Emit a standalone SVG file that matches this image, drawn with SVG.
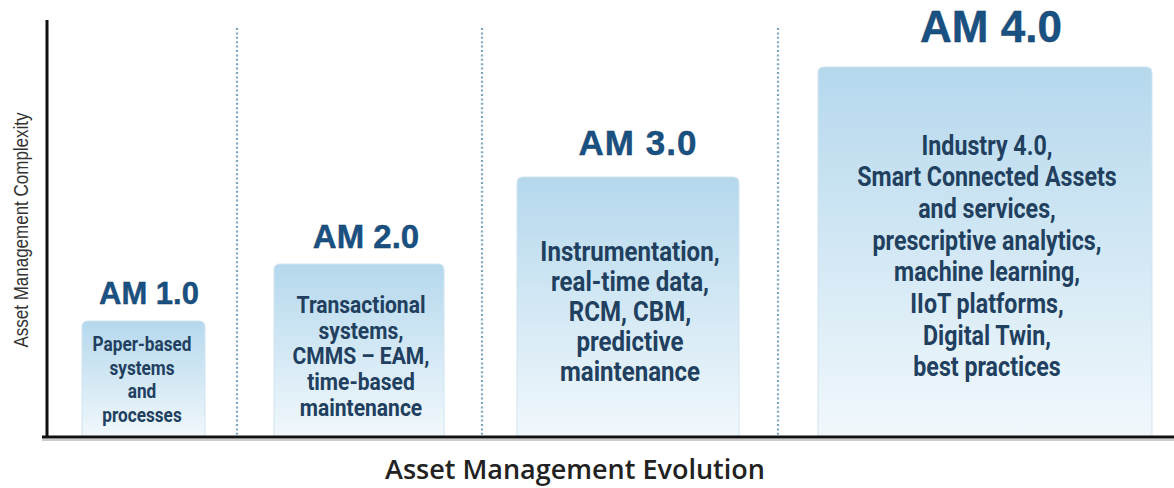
<svg xmlns="http://www.w3.org/2000/svg" width="1174" height="488" viewBox="0 0 1174 488">
<style>
.title{font-family:"Liberation Sans",Arial,sans-serif;font-weight:bold;fill:#1a5183;text-anchor:middle;stroke:#123c62;stroke-width:0.4}
.body{font-family:"Roboto","Liberation Sans",sans-serif;font-weight:bold;fill:#213f5e;text-anchor:middle}
.box{fill:url(#g);stroke:#d0e4f0;stroke-width:1}
.div{stroke:#7fa6bf;stroke-width:2.2;stroke-dasharray:2 2.4}
</style>
<defs>
<linearGradient id="g" x1="0" y1="0" x2="0" y2="1">
<stop offset="0" stop-color="#b5d8ed"/>
<stop offset="1" stop-color="#f1f8fc"/>
</linearGradient>
</defs>
<rect width="1174" height="488" fill="#fff"/>
<g id="dividers">
<line class="div" x1="237" y1="28" x2="237" y2="436"/>
<line class="div" x1="482" y1="28" x2="482" y2="436"/>
<line class="div" x1="778" y1="28" x2="778" y2="436"/>
</g>
<g id="am1">
<path class="box" d="M82,437 V327 Q82,321 88,321 H199 Q205,321 205,327 V437 Z"/>
<text class="title" x="149" y="304" font-size="31">AM 1.0</text>
<g class="body" font-size="20">
<text transform="translate(142,351) scale(0.86,1)">Paper-based</text>
<text transform="translate(142,375) scale(0.86,1)">systems</text>
<text transform="translate(142,398) scale(0.86,1)">and</text>
<text transform="translate(142,422) scale(0.86,1)">processes</text>
</g>
</g>
<g id="am2">
<path class="box" d="M274,437 V270 Q274,264 280,264 H438 Q444,264 444,270 V437 Z"/>
<text class="title" x="366" y="248" font-size="33">AM 2.0</text>
<g class="body" font-size="23">
<text transform="translate(361,313) scale(0.915,1)">Transactional</text>
<text transform="translate(361,338.5) scale(0.915,1)">systems,</text>
<text transform="translate(361,364) scale(0.915,1)">CMMS – EAM,</text>
<text transform="translate(361,389.5) scale(0.915,1)">time-based</text>
<text transform="translate(361,416) scale(0.915,1)">maintenance</text>
</g>
</g>
<g id="am3">
<path class="box" d="M517,437 V183 Q517,177 523,177 H733 Q739,177 739,183 V437 Z"/>
<text class="title" x="638" y="155" font-size="35" letter-spacing="1">AM 3.0</text>
<g class="body" font-size="28">
<text transform="translate(630,261) scale(0.86,1)">Instrumentation,</text>
<text transform="translate(630,291) scale(0.86,1)">real-time data,</text>
<text transform="translate(630,321) scale(0.86,1)">RCM, CBM,</text>
<text transform="translate(630,351) scale(0.86,1)">predictive</text>
<text transform="translate(630,381) scale(0.86,1)">maintenance</text>
</g>
</g>
<g id="am4">
<path class="box" d="M818,437 V73 Q818,67 824,67 H1146 Q1152,67 1152,73 V437 Z"/>
<text class="title" x="991" y="42" font-size="44">AM 4.0</text>
<g class="body" font-size="27">
<text transform="translate(987,155) scale(0.86,1)">Industry 4.0,</text>
<text transform="translate(987,186) scale(0.86,1)">Smart Connected Assets</text>
<text transform="translate(987,218) scale(0.86,1)">and services,</text>
<text transform="translate(987,250) scale(0.86,1)">prescriptive analytics,</text>
<text transform="translate(987,281) scale(0.86,1)">machine learning,</text>
<text transform="translate(987,313) scale(0.86,1)">IIoT platforms,</text>
<text transform="translate(987,345) scale(0.86,1)">Digital Twin,</text>
<text transform="translate(987,376) scale(0.86,1)">best practices</text>
</g>
</g>
<g id="axes">
<line x1="47" y1="20" x2="47" y2="438" stroke="#111" stroke-width="3"/>
<line x1="42" y1="437" x2="1174" y2="437" stroke="#111" stroke-width="3"/>
<line x1="42" y1="440" x2="1174" y2="440" stroke="#999" stroke-width="1"/>
</g>
<text transform="translate(28,230) rotate(-90) scale(0.85,1)" font-family="'Liberation Sans',Arial,sans-serif" font-size="20" fill="#333" text-anchor="middle">Asset Management Complexity</text>
<text x="575" y="479" font-family="'Open Sans',sans-serif" font-weight="600" font-size="27" fill="#222" text-anchor="middle">Asset Management Evolution</text>
</svg>
